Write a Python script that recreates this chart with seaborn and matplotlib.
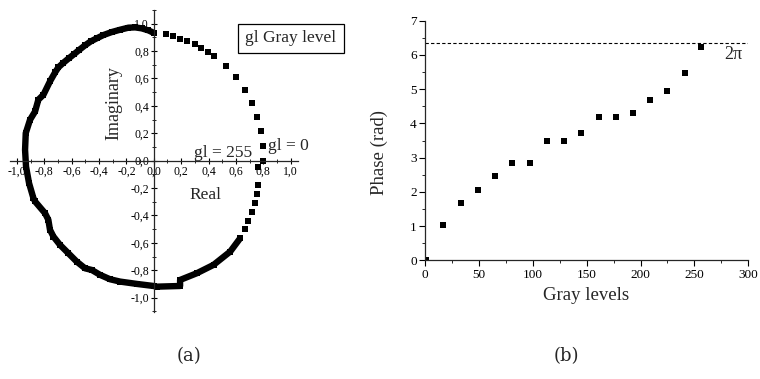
import matplotlib
matplotlib.use("Agg")
import matplotlib.pyplot as plt
from matplotlib.ticker import MultipleLocator, FuncFormatter
import seaborn as sns

# ---------------- (a) complex amplitude curve ----------------
# dense (continuous-looking) part of the curve, traced counter-clockwise
dense_re = [0.002, -0.039, -0.088, -0.136, -0.185, -0.246, -0.307, -0.368, -0.417,
            -0.460, -0.502, -0.543, -0.582, -0.621, -0.660, -0.697, -0.721, -0.758,
            -0.806, -0.843, -0.867, -0.904, -0.935, -0.940, -0.933, -0.911, -0.879,
            -0.867, -0.794, -0.770, -0.758, -0.733, -0.685, -0.624, -0.563, -0.502,
            -0.453, -0.392, -0.319, -0.246, -0.124, -0.002, 0.022, 0.192, 0.192,
            0.314, 0.436, 0.558, 0.631]
dense_im = [0.932, 0.951, 0.966, 0.973, 0.971, 0.956, 0.939, 0.917, 0.893,
            0.871, 0.842, 0.810, 0.778, 0.747, 0.715, 0.681, 0.644, 0.579,
            0.481, 0.445, 0.359, 0.298, 0.201, 0.079, -0.043, -0.164, -0.274,
            -0.298, -0.384, -0.432, -0.505, -0.554, -0.615, -0.676, -0.737, -0.786,
            -0.798, -0.834, -0.866, -0.883, -0.900, -0.915, -0.920, -0.915, -0.871,
            -0.822, -0.761, -0.664, -0.566]
# isolated points (upper right, from gl = 0 upwards)
upper_re = [0.797, 0.794, 0.780, 0.750, 0.714, 0.663, 0.597, 0.524, 0.438, 0.395,
            0.348, 0.300, 0.246, 0.192, 0.139, 0.088]
upper_im = [0.000, 0.104, 0.213, 0.318, 0.420, 0.518, 0.610, 0.693, 0.764, 0.793,
            0.822, 0.851, 0.873, 0.890, 0.907, 0.924]
# isolated points (lower right, up to gl = 255)
lower_re = [0.663, 0.689, 0.714, 0.736, 0.750, 0.760, 0.758]
lower_im = [-0.501, -0.437, -0.374, -0.308, -0.245, -0.181, -0.047]

# ---------------- (b) phase vs gray level ----------------
gray_levels = [1, 17, 33, 49, 65, 81, 97, 113, 129, 145, 161, 177, 193, 209, 225, 241, 256]
phase_rad = [0.0, 1.03, 1.67, 2.06, 2.45, 2.83, 2.83, 3.48, 3.48, 3.73, 4.18, 4.18,
             4.30, 4.69, 4.95, 5.46, 6.23]
two_pi_line = 6.35

sns.set_theme(style="ticks")
plt.rcParams['font.family'] = ['Liberation Serif', 'DejaVu Serif']

W, H = 760, 379
fig = plt.figure(figsize=(W / 100, H / 100), dpi=100)


def fx(x):
    return x / W


def fy(y):
    return 1 - y / H


comma = FuncFormatter(lambda v, _: f"{round(v, 1) + 0.0:.1f}".replace('.', ','))

# ---- panel (a)
axA = fig.add_axes([fx(10), fy(312), (298 - 10) / W, (312 - 10) / H])
axA.set_facecolor('none')
sns.lineplot(x=dense_re, y=dense_im, sort=False, estimator=None, color='black',
             linewidth=4.6, ax=axA, solid_joinstyle='round', solid_capstyle='butt')
sns.scatterplot(x=dense_re, y=dense_im, marker='s', s=20, color='black',
                linewidth=0, ax=axA)
sns.scatterplot(x=upper_re + lower_re, y=upper_im + lower_im, marker='s', s=19,
                color='black', linewidth=0, ax=axA)
axA.set_xlim(-1.05, 1.053)
axA.set_ylim(-1.105, 1.10)
for s in ['top', 'right']:
    axA.spines[s].set_visible(False)
axA.spines['left'].set_position(('data', 0))
axA.spines['bottom'].set_position(('data', 0))
for s in ['left', 'bottom']:
    axA.spines[s].set_linewidth(0.9)
axA.xaxis.set_major_locator(MultipleLocator(0.2))
axA.yaxis.set_major_locator(MultipleLocator(0.2))
axA.xaxis.set_minor_locator(MultipleLocator(0.1))
axA.yaxis.set_minor_locator(MultipleLocator(0.1))
axA.xaxis.set_major_formatter(comma)
axA.yaxis.set_major_formatter(comma)
axA.tick_params(which='major', direction='inout', length=5, width=0.8,
                labelsize=8.5, pad=1, colors='black')
axA.tick_params(which='minor', direction='inout', length=3, width=0.7)
axA.set_xlabel('')
axA.set_ylabel('')
axA.text(-0.29, 0.42, 'Imaginary', rotation=90, ha='center', va='center', fontsize=13)
axA.text(0.376, -0.25, 'Real', ha='center', va='center', fontsize=12.5)
axA.text(0.505, 0.057, 'gl = 255', ha='center', va='center', fontsize=12.5)
axA.text(0.985, 0.108, 'gl = 0', ha='center', va='center', fontsize=12.5, clip_on=False)
fig.text(fx(291), fy(38.5), 'gl Gray level', ha='center', va='center', fontsize=12.5,
         bbox=dict(boxstyle='square,pad=0.4', fc='white', ec='black', lw=0.9))

# ---- panel (b)
axB = fig.add_axes([fx(425), fy(260.3), (748.3 - 425) / W, (260.3 - 20.7) / H])
axB.set_facecolor('none')
axB.axhline(two_pi_line, color='black', lw=0.8, ls=(0, (3, 2)))
sns.scatterplot(x=gray_levels, y=phase_rad, marker='s', s=22, color='black',
                linewidth=0, ax=axB)
axB.set_xlim(0, 300)
axB.set_ylim(0, 7)
for s in ['top', 'right']:
    axB.spines[s].set_visible(False)
for s in ['left', 'bottom']:
    axB.spines[s].set_linewidth(0.9)
axB.xaxis.set_major_locator(MultipleLocator(50))
axB.xaxis.set_minor_locator(MultipleLocator(25))
axB.yaxis.set_major_locator(MultipleLocator(1))
axB.yaxis.set_minor_locator(MultipleLocator(0.5))
axB.tick_params(which='major', direction='out', length=4, width=0.8,
                labelsize=9.5, pad=2, colors='black')
axB.tick_params(which='minor', direction='out', length=2.5, width=0.7)
axB.set_xlabel('Gray levels', fontsize=13.5)
axB.set_ylabel('Phase (rad)', fontsize=13.5)
axB.xaxis.set_label_coords(0.498, -0.11)
axB.yaxis.set_label_coords(-0.115, 0.45)
axB.text(286, 6.0, '2π', ha='center', va='center', fontsize=13)

# captions
fig.text(fx(189), fy(356), '(a)', ha='center', va='center', fontsize=13,
         family=['DejaVu Serif'])
fig.text(fx(566), fy(356), '(b)', ha='center', va='center', fontsize=13,
         family=['DejaVu Serif'])

fig.savefig('out.png', dpi=100, facecolor='white')
